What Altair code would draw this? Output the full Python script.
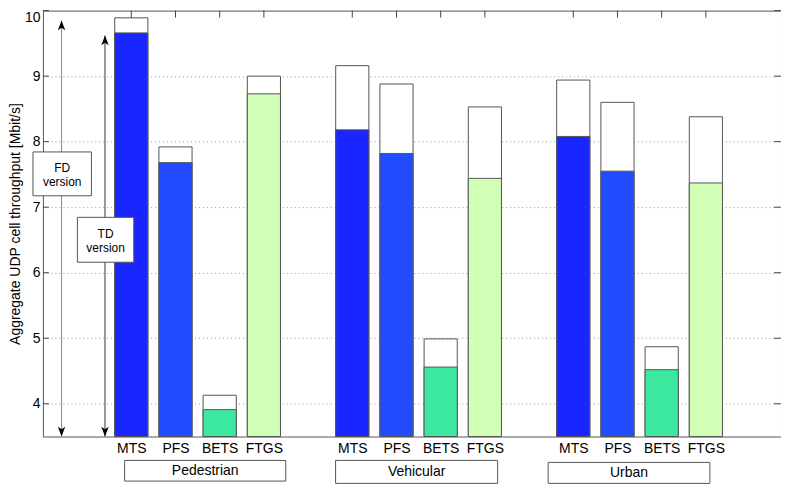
import altair as alt
import pandas as pd

# ---------------- data ----------------
scenarios = ["Pedestrian", "Vehicular", "Urban"]
schedulers = ["MTS", "PFS", "BETS", "FTGS"]
colors = ["#1A26FF", "#244CFF", "#3CE8A0", "#D2FFB6"]
positions = [[1, 2, 3, 4], [6, 7, 8, 9], [11, 12, 13, 14]]

td_pedestrian = [9.66, 7.68, 3.91, 8.73]
td_vehicular = [8.18, 7.82, 4.56, 7.44]
td_urban = [8.08, 7.55, 4.52, 7.37]
fd_pedestrian = [9.89, 7.92, 4.13, 9.00]
fd_vehicular = [9.16, 8.88, 4.99, 8.53]
fd_urban = [8.94, 8.60, 4.87, 8.38]

y_ticks = [4, 5, 6, 7, 8, 9, 10]
y_title = "Aggregate UDP cell throughput [Mbit/s]"

# annotation: arrows + boxes (data coordinates)
arrow_x = [-0.578, 0.405]
arrow_top = [9.85, 9.62]
arrow_color = ["#888888", "#333333"]
note_labels = ["FD\nversion", "TD\nversion"]
note_x0 = [-1.225, -0.22]
note_x1 = [0.098, 1.056]
note_y0 = [7.174, 6.16]
note_y1 = [7.843, 6.845]

group_x0 = [0.849, 5.622, 10.432]
group_x1 = [4.495, 9.289, 14.091]
group_y0 = [2.82, 2.785, 2.785]
group_y1 = [3.135, 3.135, 3.105]

X_MIN, X_MAX = -1, 15.7
Y_MIN, Y_MAX = 3.5, 10
HALF = 0.375
FONT = "Liberation Sans"

# ---------------- tables ----------------
td_all = [td_pedestrian, td_vehicular, td_urban]
fd_all = [fd_pedestrian, fd_vehicular, fd_urban]
rows = []
for g, sc in enumerate(scenarios):
    for i, s in enumerate(schedulers):
        p = positions[g][i]
        rows.append(dict(scenario=sc, scheduler=s, pos=p, x0=p - HALF, x1=p + HALF,
                         td=td_all[g][i], fd=fd_all[g][i], base=Y_MIN))
bars = pd.DataFrame(rows)

label_arr = [""] * 16
for g in range(3):
    for i, s in enumerate(schedulers):
        label_arr[positions[g][i]] = s
label_expr = "[" + ",".join("'%s'" % l for l in label_arr) + "][datum.value]"
all_pos = [p for grp in positions for p in grp]

xs = alt.Scale(domain=[X_MIN, X_MAX], nice=False, zero=False)
ys = alt.Scale(domain=[Y_MIN, Y_MAX], nice=False, zero=False)

x_axis = alt.Axis(values=all_pos, labelExpr=label_expr, title=None, tickSize=0,
                  domain=False, grid=False, labelPadding=5, labelFontSize=14,
                  labelColor="black", labelFont=FONT)
y_axis = alt.Axis(values=y_ticks, title=y_title, tickSize=0, domain=False, grid=True,
                  gridDash=[1, 3], gridColor="#999999", gridWidth=1,
                  labelPadding=3, labelFontSize=14, labelColor="black", labelFont=FONT,
                  labelFlush=1, labelFlushOffset=0,
                  titleFont=FONT, titleFontSize=14, titleFontWeight="normal",
                  titleColor="black", titlePadding=1.5)


def X(field):
    return alt.X(field, scale=xs, axis=x_axis, title=None)


def Y(field):
    return alt.Y(field, scale=ys, axis=y_axis, title=y_title)


cmap = alt.Scale(domain=schedulers, range=colors)

fd_bars = alt.Chart(bars).mark_rect(fill="white", stroke="#555555", strokeWidth=1).encode(
    x=X("x0:Q"), x2="x1:Q", y=Y("base:Q"), y2="fd:Q",
)
td_bars = alt.Chart(bars).mark_rect(stroke="#555555", strokeWidth=1).encode(
    x=X("x0:Q"), x2="x1:Q", y=Y("base:Q"), y2="td:Q",
    fill=alt.Fill("scheduler:N", scale=cmap, legend=None),
)

# inward ticks
tick_df = pd.DataFrame({"v": y_ticks, "xl": [X_MIN] * len(y_ticks),
                        "xr": [X_MAX] * len(y_ticks)})
left_ticks = alt.Chart(tick_df).mark_rule(color="#444444", x2Offset=6).encode(
    y=Y("v:Q"), x=X("xl:Q"), x2="xl:Q")
right_ticks = alt.Chart(tick_df).mark_rule(color="#444444", x2Offset=-7).encode(
    y=Y("v:Q"), x=X("xr:Q"), x2="xr:Q")
top_df = pd.DataFrame({"p": all_pos, "yt": [Y_MAX] * len(all_pos)})
top_ticks = alt.Chart(top_df).mark_rule(color="#444444", y2Offset=7).encode(
    x=X("p:Q"), y=Y("yt:Q"), y2="yt:Q")

# arrows
arrows = pd.DataFrame({"x": arrow_x, "top": arrow_top, "base": [Y_MIN, Y_MIN],
                       "c": arrow_color})
arrow_lines = alt.Chart(arrows).mark_rule(strokeWidth=1).encode(
    x=X("x:Q"), y=Y("base:Q"), y2="top:Q",
    color=alt.Color("c:N", scale=None, legend=None))
head_up = alt.Chart(arrows).mark_point(
    shape="M0,0 L0.38,1 L0,0.75 L-0.38,1 Z", size=380, filled=True, color="black",
    opacity=1).encode(x=X("x:Q"), y=Y("top:Q"))
head_down = alt.Chart(arrows).mark_point(
    shape="M0,0 L0.38,-1 L0,-0.75 L-0.38,-1 Z", size=380, filled=True, color="black",
    opacity=1).encode(x=X("x:Q"), y=Y("base:Q"))

notes = pd.DataFrame({"label": note_labels, "x0": note_x0, "x1": note_x1,
                      "y0": note_y0, "y1": note_y1})
notes["xc"] = (notes.x0 + notes.x1) / 2
notes["yc"] = (notes.y0 + notes.y1) / 2
note_boxes = alt.Chart(notes).mark_rect(fill="white", stroke="#555555", strokeWidth=1).encode(
    x=X("x0:Q"), x2="x1:Q", y=Y("y0:Q"), y2="y1:Q")
note_text = alt.Chart(notes).mark_text(
    lineBreak="\n", fontSize=12, lineHeight=14, font=FONT, color="black",
    align="center", baseline="middle", dy=-6).encode(
    x=X("xc:Q"), y=Y("yc:Q"), text="label:N")

groups = pd.DataFrame({"label": scenarios, "x0": group_x0, "x1": group_x1,
                       "y0": group_y0, "y1": group_y1})
groups["xc"] = (groups.x0 + groups.x1) / 2
groups["yc"] = (groups.y0 + groups.y1) / 2
group_boxes = alt.Chart(groups).mark_rect(fill="white", stroke="#555555", strokeWidth=1).encode(
    x=X("x0:Q"), x2="x1:Q", y=Y("y0:Q"), y2="y1:Q")
group_text = alt.Chart(groups).mark_text(
    fontSize=14, font=FONT, color="black", align="center", baseline="middle").encode(
    x=X("xc:Q"), y=Y("yc:Q"), text="label:N")

chart = alt.layer(
    fd_bars, arrow_lines, head_up, head_down, td_bars,
    left_ticks, right_ticks, top_ticks,
    note_boxes, note_text, group_boxes, group_text,
).properties(
    width=740, height=427,
    padding={"left": 35, "top": 2, "right": 0, "bottom": 55},
    autosize="none",
    background="white",
).configure_view(stroke="#555555", strokeWidth=1)

chart.save("out.html", embed_options={"renderer": "svg", "actions": False})
